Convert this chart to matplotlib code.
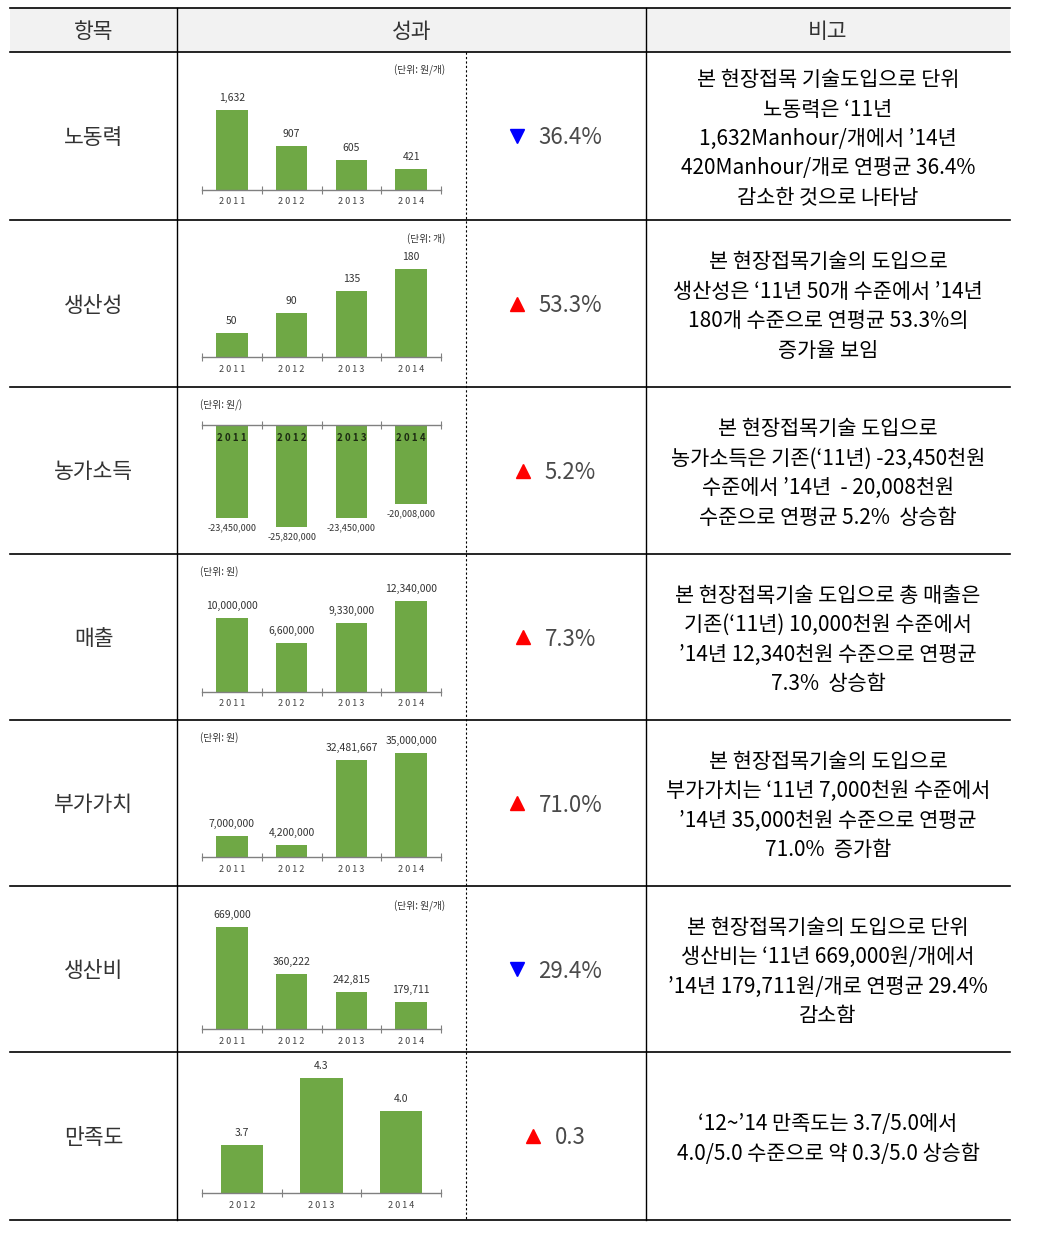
import matplotlib
matplotlib.use("Agg")
import matplotlib.pyplot as plt
import numpy as np

plt.rcParams['font.family'] = ['Noto Sans CJK KR', 'DejaVu Sans']

years = ['2011', '2012', '2013', '2014']
sat_years = ['2012', '2013', '2014']
labor = [1632, 907, 605, 421]
productivity = [50, 90, 135, 180]
farm_income = [-23450000, -25820000, -23450000, -20008000]
sales = [10000000, 6600000, 9330000, 12340000]
value_added = [7000000, 4200000, 32481667, 35000000]
prod_cost = [669000, 360222, 242815, 179711]
satisfaction = [3.7, 4.3, 4.0]

headers = ['항목', '성과', '비고']
items = ['노동력', '생산성', '농가소득', '매출', '부가가치', '생산비', '만족도']
changes = ['36.4%', '53.3%', '5.2%', '7.3%', '71.0%', '29.4%', '0.3']
directions = ['down', 'up', 'up', 'up', 'up', 'down', 'up']
units = ['(단위: 원/개)', '(단위: 개)', '(단위: 원/)', '(단위: 원)',
         '(단위: 원)', '(단위: 원/개)', None]
notes = [
    ['본 현장접목 기술도입으로 단위', '노동력은 ‘11년', '1,632Manhour/개에서 ’14년',
     '420Manhour/개로 연평균 36.4%', '감소한 것으로 나타남'],
    ['본 현장접목기술의 도입으로', '생산성은 ‘11년 50개 수준에서 ’14년',
     '180개 수준으로 연평균 53.3%의', '증가율 보임'],
    ['본 현장접목기술 도입으로', '농가소득은 기존(‘11년) -23,450천원',
     '수준에서 ’14년  - 20,008천원', '수준으로 연평균 5.2%  상승함'],
    ['본 현장접목기술 도입으로 총 매출은', '기존(‘11년) 10,000천원 수준에서',
     '’14년 12,340천원 수준으로 연평균', '7.3%  상승함'],
    ['본 현장접목기술의 도입으로', '부가가치는 ‘11년 7,000천원 수준에서',
     '’14년 35,000천원 수준으로 연평균', '71.0%  증가함'],
    ['본 현장접목기술의 도입으로 단위', '생산비는 ‘11년 669,000원/개에서',
     '’14년 179,711원/개로 연평균 29.4%', '감소함'],
    ['‘12~’14 만족도는 3.7/5.0에서', '4.0/5.0 수준으로 약 0.3/5.0 상승함'],
]
series = [labor, productivity, farm_income, sales, value_added, prod_cost, satisfaction]
cats = [years] * 6 + [sat_years]

# layout in pixels
W, H = 1045, 1245
row_edges = [52, 220, 387, 554, 720, 886, 1052, 1220]
baselines = [190, 357, 425, 692, 857, 1029, 1193]
bar_px_max = [80, 88, 102, 91, 104, 102, 115]
y_floor = [0, 0, 0, 0, 0, 0, 3.27]
unit_pos = [(445, 70, 'right'), (445, 239, 'right'), (200, 405, 'left'),
            (200, 572, 'left'), (200, 738, 'left'), (445, 906, 'right'), None]
green = '#6fa845'
gray = '#808080'
dy = 2  # small nudge for CJK text centring

fig = plt.figure(figsize=(W / 100, H / 100), dpi=100)
bg = fig.add_axes([0, 0, 1, 1])
bg.set_xlim(0, W)
bg.set_ylim(H, 0)
bg.axis('off')

# header band and table rules
bg.fill_between([10, 1010], 8, 52, color='#f2f2f2', lw=0)
for y in [8] + row_edges:
    bg.plot([10, 1010], [y, y], color='black', lw=1.2)
bg.plot([177, 177], [8, 1220], color='black', lw=1)
bg.plot([646, 646], [8, 1220], color='black', lw=1)
bg.plot([466, 466], [52, 1220], color='black', lw=0.8, ls=(0, (2, 2)))

for x, h in zip([93.5, 411.5, 828], headers):
    bg.text(x, 30 + dy, h, ha='center', va='center', fontsize=15.5, color='#333333')

renderer = fig.canvas.get_renderer()

for i in range(7):
    top, bot = row_edges[i], row_edges[i + 1]
    yc = (top + bot) / 2
    bg.text(93.5, yc + dy, items[i], ha='center', va='center', fontsize=15.5,
            color='#333333')

    # change value with arrow
    t = bg.text(0, yc + dy, changes[i], ha='left', va='center', fontsize=16,
                color='#4a4a4a', fontweight='light')
    w = t.get_window_extent(renderer=renderer).width
    left = 556 - (29 + w) / 2
    t.set_x(left + 29)
    up = directions[i] == 'up'
    bg.plot(left + 7, yc, marker='^' if up else 'v', ms=10, ls='none',
            color='red' if up else 'blue')

    # remarks
    n = len(notes[i])
    for k, line in enumerate(notes[i]):
        bg.text(828, yc + dy + 1 + (k - (n - 1) / 2) * 29.5, line, ha='center',
                va='center', fontsize=15, color='black')

    # unit label
    if unit_pos[i] is not None:
        ux, uy, ha = unit_pos[i]
        bg.text(ux, uy, units[i], ha=ha, va='center', fontsize=7, color='#333333')

    # small bar chart
    vals = np.array(series[i], dtype=float)
    base = y_floor[i]
    scale = bar_px_max[i] / np.max(np.abs(vals - base))
    ax_h = 125
    negative = vals.max() < 0
    if negative:
        ax = fig.add_axes([202 / W, (H - baselines[i] - ax_h) / H, 239 / W, ax_h / H])
        ax.set_ylim(-ax_h / scale, 0)
    else:
        ax = fig.add_axes([202 / W, (H - baselines[i]) / H, 239 / W, ax_h / H])
        ax.set_ylim(base, base + ax_h / scale)
    nc = len(cats[i])
    ax.set_xlim(-0.5, nc - 0.5)
    ax.axis('off')
    ax.bar(range(nc), vals, width=0.53, color=green, zorder=2)
    ax.axhline(base, color=gray, lw=1, zorder=3, clip_on=False)
    ax.plot(np.arange(nc + 1) - 0.5, [base] * (nc + 1), ls='none', marker='|',
            ms=6, mew=0.8, color=gray, clip_on=False, zorder=3)
    for j, v in enumerate(vals):
        label = f'{v:.1f}' if i == 6 else f'{int(v):,}'
        spaced = ' '.join(cats[i][j])
        if negative:
            ax.annotate(spaced, (j, base), xytext=(0, -13), textcoords='offset pixels',
                        ha='center', va='center', fontsize=7, color='#1c2b12',
                        fontweight='bold', zorder=4)
            ax.annotate(label, (j, v), xytext=(0, -10), textcoords='offset pixels',
                        ha='center', va='center', fontsize=6.5, color='#333333',
                        annotation_clip=False)
        else:
            ax.annotate(spaced, (j, base), xytext=(0, -12), textcoords='offset pixels',
                        ha='center', va='center', fontsize=6.5, color='#404040',
                        annotation_clip=False)
            ax.annotate(label, (j, v), xytext=(0, 12), textcoords='offset pixels',
                        ha='center', va='center', fontsize=7.5, color='#333333',
                        annotation_clip=False)

fig.savefig('out.png', dpi=100)
